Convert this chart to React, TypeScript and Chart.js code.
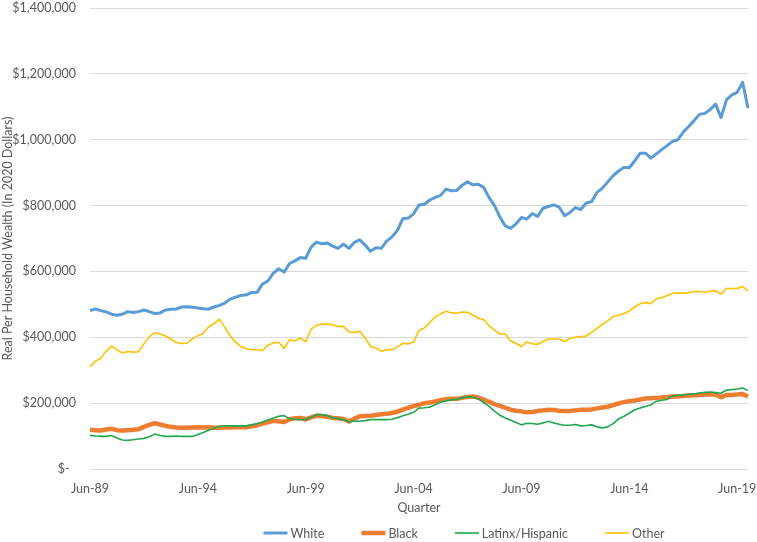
import React, { useEffect, useRef } from "react";
import { Chart, registerables } from "chart.js";

Chart.register(...registerables);

// Quarterly categories, Jun-89 .. Dec-19
const quarterMonths = ["Mar", "Jun", "Sep", "Dec"];
const categories: string[] = [];
for (let k = 0; k < 123; k++) {
  const q = k + 1;
  const y = 1989 + Math.floor(q / 4);
  categories.push(`${quarterMonths[q % 4]}-${String(y % 100).padStart(2, "0")}`);
}

const tickLabels = ["Jun-89", "Jun-94", "Jun-99", "Jun-04", "Jun-09", "Jun-14", "Jun-19"];

const seriesNames = ["White", "Black", "Latinx/Hispanic", "Other"];

// values in thousands of 2020 dollars
const whiteK = [
  481, 486, 481, 477, 470, 467, 470, 478, 475, 478,
  483, 478, 472, 474, 483, 485, 486, 492, 493, 491,
  489, 487, 486, 492, 497, 504, 516, 522, 527, 529,
  536, 537, 562, 571, 595, 608, 598, 624, 632, 642,
  640, 674, 689, 684, 686, 677, 670, 683, 670, 688,
  696, 680, 661, 672, 670, 692, 705, 725, 760, 762,
  775, 802, 804, 817, 825, 831, 850, 845, 846, 862,
  872, 863, 865, 855, 824, 800, 765, 738, 731, 745,
  764, 759, 776, 767, 792, 797, 802, 795, 769, 779,
  794, 788, 808, 812, 840, 853, 872, 891, 905, 916,
  915, 936, 959, 959, 944, 957, 970, 982, 995, 1000,
  1023, 1040, 1058, 1077, 1080, 1092, 1108, 1067, 1121, 1136,
  1144, 1174, 1096,
];

const blackK = [
  119, 118, 117, 120, 122, 118, 117, 118, 119, 121,
  128, 134, 139, 135, 131, 128, 126, 125, 125, 126,
  127, 126, 127, 125, 125, 126, 126, 127, 127, 127,
  130, 133, 138, 142, 146, 145, 143, 151, 154, 155,
  151, 157, 162, 161, 159, 155, 154, 152, 144, 153,
  160, 161, 162, 164, 166, 168, 170, 174, 180, 186,
  191, 195, 200, 202, 205, 209, 212, 213, 213, 216,
  219, 220, 217, 211, 204, 197, 192, 186, 180, 177,
  175, 172, 173, 176, 178, 180, 179, 177, 176, 176,
  178, 180, 180, 181, 184, 187, 189, 194, 199, 203,
  206, 208, 211, 214, 215, 216, 217, 219, 220, 220,
  222, 223, 224, 225, 226, 227, 226, 218, 225, 225,
  226, 228, 220,
];

const latinxK = [
  102, 100, 99, 99, 102, 94, 88, 87, 89, 91,
  93, 98, 106, 102, 99, 99, 100, 99, 99, 99,
  105, 111, 118, 124, 130, 131, 131, 131, 131, 131,
  134, 138, 143, 149, 155, 160, 162, 153, 151, 150,
  150, 157, 165, 165, 162, 156, 153, 150, 143, 146,
  145, 147, 150, 150, 150, 150, 151, 156, 162, 166,
  172, 185, 186, 188, 195, 203, 207, 210, 212, 216,
  220, 218, 213, 202, 190, 176, 163, 155, 148, 141,
  134, 139, 138, 136, 140, 145, 140, 136, 133, 133,
  135, 131, 132, 134, 128, 125, 128, 138, 152, 160,
  170, 180, 185, 190, 195, 206, 209, 211, 222, 224,
  225, 227, 228, 231, 233, 234, 232, 230, 240, 241,
  243, 246, 238,
];

const otherK = [
  311, 327, 336, 358, 373, 362, 352, 357, 355, 356,
  380, 402, 414, 410, 404, 394, 384, 381, 382, 395,
  405, 412, 432, 441, 455, 430, 404, 385, 372, 365,
  362, 362, 360, 376, 383, 385, 366, 393, 389, 398,
  386, 425, 436, 440, 440, 438, 433, 433, 416, 415,
  418, 398, 372, 367, 358, 362, 362, 371, 382, 380,
  386, 421, 428, 445, 462, 471, 479, 474, 473, 477,
  476, 467, 458, 453, 435, 422, 410, 410, 389, 381,
  372, 386, 380, 379, 387, 395, 395, 395, 387, 397,
  400, 402, 404, 415, 427, 439, 450, 463, 467, 472,
  480, 492, 502, 506, 502, 517, 520, 527, 533, 534,
  534, 535, 539, 540, 537, 540, 541, 531, 548, 548,
  548, 554, 541,
];

const yTicks = [0, 200000, 400000, 600000, 800000, 1000000, 1200000, 1400000];

const colors = ["#5B9BD5", "#ED7D31", "#1FA84F", "#FFC000"];
const widths = [3, 4.5, 1.6, 1.6];

const FONT = "Lato, 'Open Sans', sans-serif";
const TEXT_COLOR = "#595959";

const legendPlugin = {
  id: "bottomLegend",
  afterDraw(chart: any) {
    const ctx = chart.ctx as CanvasRenderingContext2D;
    const ds = chart.data.datasets;
    ctx.save();
    ctx.font = `12.5px ${FONT}`;
    ctx.textBaseline = "middle";
    const lineLen = 24;
    const gap = 3;
    const pad = 37;
    const widthsArr = ds.map((d: any) => lineLen + gap + ctx.measureText(d.label).width);
    const total = widthsArr.reduce((a: number, b: number) => a + b, 0) + pad * (ds.length - 1);
    const centerX = 464;
    const y = 533;
    let x = centerX - total / 2;
    ds.forEach((d: any, i: number) => {
      ctx.strokeStyle = d.borderColor;
      ctx.lineWidth = d.borderWidth;
      ctx.lineCap = "butt";
      ctx.beginPath();
      ctx.moveTo(x, y);
      ctx.lineTo(x + lineLen, y);
      ctx.stroke();
      ctx.fillStyle = TEXT_COLOR;
      ctx.textAlign = "left";
      ctx.fillText(d.label, x + lineLen + gap, y + 0.5);
      x += widthsArr[i] + pad;
    });
    ctx.restore();
  },
};

export default function App() {
  const ref = useRef<HTMLCanvasElement | null>(null);

  useEffect(() => {
    document.body.style.margin = "0";
    const canvas = ref.current;
    if (!canvas) return;
    const seriesK = [whiteK, blackK, latinxK, otherK];
    const chart = new Chart(canvas, {
      type: "line",
      data: {
        labels: categories,
        datasets: seriesNames.map((name, i) => ({
          label: name,
          data: seriesK[i].map((v) => v * 1000),
          borderColor: colors[i],
          backgroundColor: colors[i],
          borderWidth: widths[i],
          pointRadius: 0,
          pointHoverRadius: 0,
          tension: 0,
          fill: false,
          order: 3 - i,
          borderJoinStyle: "round" as const,
        })),
      },
      options: {
        responsive: false,
        animation: false,
        devicePixelRatio: 1,
        layout: { padding: { top: 8, right: 9, left: 0, bottom: 0 } },
        plugins: {
          legend: { display: false },
          tooltip: { enabled: false },
        },
        scales: {
          x: {
            type: "category",
            offset: false,
            grid: { display: false, drawTicks: false },
            border: { display: false },
            title: {
              display: true,
              text: "Quarter",
              color: TEXT_COLOR,
              font: { family: FONT, size: 12.5 },
              padding: { top: 0, bottom: 27 },
            },
            ticks: {
              autoSkip: false,
              maxRotation: 0,
              minRotation: 0,
              padding: 12,
              color: TEXT_COLOR,
              font: { family: FONT, size: 12.5 },
              callback: (_v: any, index: number) =>
                tickLabels.includes(categories[index]) ? categories[index] : "",
            },
            afterFit: (scale: any) => {
              scale.height = 73;
              scale.paddingLeft = 0;
              scale.paddingRight = 0;
            },
          },
          y: {
            min: yTicks[0],
            max: yTicks[yTicks.length - 1],
            afterBuildTicks: (scale: any) => {
              scale.ticks = yTicks.map((v) => ({ value: v }));
            },
            grid: { color: "#D9D9D9", lineWidth: 1, drawTicks: false },
            border: { display: false },
            title: {
              display: true,
              text: "Real Per Household Wealth (In 2020 Dollars)",
              color: TEXT_COLOR,
              font: { family: FONT, size: 12.5 },
              padding: { top: 0, bottom: 0 },
            },
            ticks: {
              padding: 14,
              color: TEXT_COLOR,
              font: { family: FONT, size: 12.5 },
              callback: (v: any) =>
                Number(v) === 0 ? "$-  " : "$" + Number(v).toLocaleString("en-US"),
            },
            afterFit: (scale: any) => {
              scale.width = 90;
              scale.paddingTop = 0;
              scale.paddingBottom = 0;
            },
          },
        },
      },
      plugins: [legendPlugin],
    });
    return () => chart.destroy();
  }, []);

  return (
    <div style={{ width: 757, height: 542 }}>
      <canvas ref={ref} width={757} height={542} style={{ width: 757, height: 542, display: "block" }} />
    </div>
  );
}
